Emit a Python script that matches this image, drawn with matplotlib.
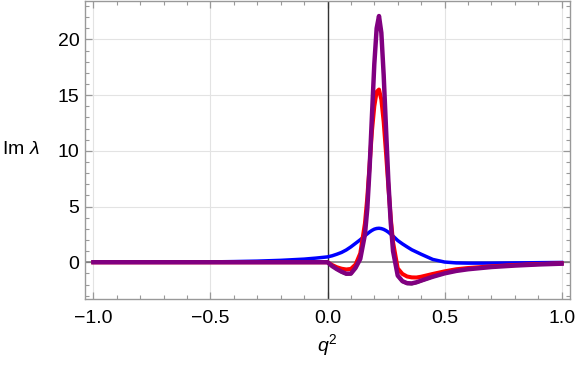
import matplotlib.pyplot as plt
from matplotlib.ticker import MultipleLocator, FuncFormatter
from matplotlib.transforms import blended_transform_factory

plt.rcParams['font.family'] = ['Liberation Sans', 'DejaVu Sans']
plt.rcParams['mathtext.fontset'] = 'custom'
plt.rcParams['mathtext.rm'] = 'Liberation Sans'
plt.rcParams['mathtext.it'] = 'Liberation Sans:italic'

# q^2 sample points (denser around the resonance)
q2 = [-1.0, -0.8, -0.6, -0.5, -0.4, -0.3, -0.2, -0.1, -0.05, 0.0,
      0.02, 0.04, 0.06, 0.08, 0.1, 0.12, 0.14, 0.16, 0.17, 0.18,
      0.19, 0.2, 0.21, 0.22, 0.23, 0.24, 0.25, 0.26, 0.27, 0.28,
      0.3, 0.32, 0.34, 0.36, 0.38, 0.4, 0.45, 0.5, 0.55, 0.6,
      0.7, 0.8, 0.9, 1.0]

im_blue = [0.0, 0.0, 0.01, 0.03, 0.06, 0.1, 0.17, 0.28, 0.37, 0.48,
           0.58, 0.72, 0.88, 1.1, 1.38, 1.7, 2.02, 2.38, 2.55, 2.72,
           2.86, 2.97, 3.03, 3.05, 3.02, 2.95, 2.84, 2.7, 2.52, 2.35,
           1.95, 1.65, 1.38, 1.12, 0.92, 0.72, 0.25, 0.02, -0.06, -0.08,
           -0.08, -0.06, -0.04, -0.02]

im_red = [0.0, 0.0, 0.0, 0.0, 0.0, 0.0, 0.0, 0.0, 0.0, 0.0,
          -0.25, -0.45, -0.58, -0.65, -0.6, -0.2, 0.8, 3.5, 5.8, 8.8,
          11.8, 14.0, 15.3, 15.5, 14.6, 12.6, 9.8, 6.8, 4.0, 1.8,
          -0.55, -1.05, -1.28, -1.36, -1.37, -1.3, -1.05, -0.82, -0.63, -0.52,
          -0.37, -0.25, -0.16, -0.1]

im_green = [0.0, 0.0, 0.0, 0.0, 0.0, 0.0, 0.0, 0.0, 0.0, 0.0,
            -0.4, -0.7, -0.95, -1.13, -1.12, -0.6, 0.2, 2.4, 4.7, 8.4,
            13.0, 17.6, 20.8, 21.8, 20.4, 16.6, 11.8, 7.1, 3.4, 0.85,
            -1.3, -1.8, -1.98, -2.0, -1.9, -1.75, -1.38, -1.05, -0.82, -0.66,
            -0.45, -0.31, -0.21, -0.14]

im_purple = [0.0, 0.0, 0.0, 0.0, 0.0, 0.0, 0.0, 0.0, 0.0, 0.0,
             -0.35, -0.62, -0.85, -1.03, -1.02, -0.5, 0.3, 2.5, 4.8, 8.5,
             13.2, 17.8, 21.0, 22.1, 20.6, 16.8, 12.0, 7.3, 3.6, 1.0,
             -1.2, -1.7, -1.88, -1.9, -1.8, -1.65, -1.3, -1.0, -0.78, -0.63,
             -0.43, -0.3, -0.2, -0.13]

fig = plt.figure(figsize=(5.76, 3.68), dpi=100)
ax = fig.add_axes([85/576, 1 - 299/368, 485/576, 298/368])
ax.set_axisbelow(True)

ax.axhline(0, color='#777777', lw=1.1, zorder=2)
ax.axvline(0, color='#333333', lw=1.0, zorder=2)

ax.plot(q2, im_blue, color='#0000ff', lw=2.5, zorder=3)
ax.plot(q2, im_red, color='#ff0000', lw=2.9, zorder=4)
ax.plot(q2, im_green, color='#008000', lw=1.2, zorder=5)
ax.plot(q2, im_purple, color='#800080', lw=3.2, zorder=6)

ax.set_xlim(-1.036, 1.036)
ax.set_ylim(-3.3, 23.45)

ax.xaxis.set_major_locator(MultipleLocator(0.5))
ax.xaxis.set_minor_locator(MultipleLocator(0.1))
ax.yaxis.set_major_locator(MultipleLocator(5))
ax.yaxis.set_minor_locator(MultipleLocator(1))
ax.xaxis.set_major_formatter(FuncFormatter(lambda v, p: ('%.1f' % v).replace('-', '\u2212')))
ax.grid(True, which='major', color='#e3e3e3', lw=0.8)

for s in ax.spines.values():
    s.set_color('#999999')
    s.set_linewidth(1.0)
ax.tick_params(which='both', direction='in', top=True, right=True,
               color='#999999', labelsize=14)
ax.tick_params(which='major', length=5, width=0.9)
ax.tick_params(which='minor', length=2.8, width=0.8)
ax.tick_params(axis='x', pad=8)
ax.tick_params(axis='y', pad=4)

fig.text(2/576, 1 - 150/368, r'Im $\lambda$', fontsize=14, ha='left', va='center')
tr = blended_transform_factory(ax.transData, fig.transFigure)
ax.text(0, 1 - 345/368, r'$q^2$', fontsize=14, ha='center', va='center', transform=tr)

fig.savefig('out.png', dpi=100)
